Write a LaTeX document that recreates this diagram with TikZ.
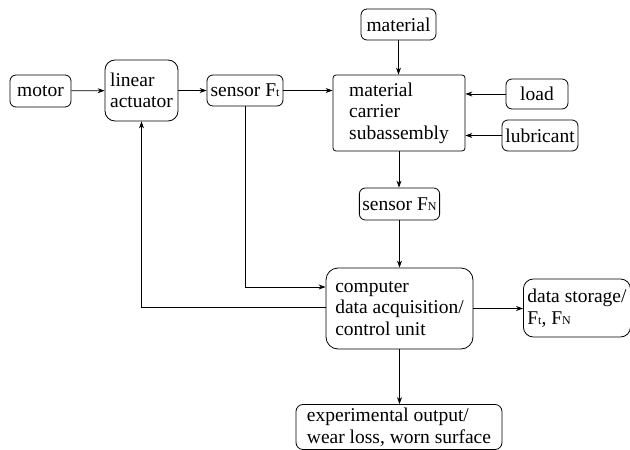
\documentclass[tikz,border=0pt]{standalone}
\usepackage{fontspec}
\setmainfont{Liberation Serif}
\newfontfamily\blockfont{Liberation Serif}
\usetikzlibrary{arrows.meta}
\newcommand{\lowsub}[1]{{\fontsize{12}{12}\selectfont #1}}

\begin{document}
\begin{tikzpicture}[x=1pt,y=-1pt,
        block/.style={draw,line width=0.8pt,rounded corners=6pt,align=left,
            inner xsep=3pt,inner ysep=2pt,font=\blockfont\fontsize{19.5}{21.5}\selectfont},
        link/.style={line width=0.8pt,-{Stealth[length=7pt,width=5pt]}}]
        \useasboundingbox (0,0) rectangle (630,450);
        %% Blocks
        \node[block,minimum width=61pt,minimum height=32pt] (motor) at (40.5,91) {motor};
        \node[block,rounded corners=10pt,minimum width=73pt,minimum height=61pt]
            (actuator) at (141.5,90.5) {linear\\actuator};
        \node[block,minimum width=76pt,minimum height=31pt] (sensorFt) at (245,90.5)
            {sensor F\lowsub{t}};
        \node[block,minimum width=75pt,minimum height=31pt] (material) at (398.5,24.5) {material};
        \node[block,rounded corners=3pt,minimum width=132pt,minimum height=76pt]
            (carrier) at (399,113) {material\\carrier\\subassembly};
        \node[block,minimum width=62pt,minimum height=30pt] (load) at (537,94) {load};
        \node[block,minimum width=76pt,minimum height=31pt] (lubricant) at (540,135.5) {lubricant};
        \node[block,minimum width=79pt,minimum height=32pt] (sensorFN) at (399.5,204)
            {sensor F\lowsub{N}};
        \node[block,rounded corners=12pt,minimum width=147pt,minimum height=81pt]
            (computer) at (399.5,308.5) {computer\\data acquisition/\\control unit};
        \node[block,rounded corners=10pt,anchor=west,minimum height=58pt,inner xsep=4pt]
            (storage) at (523,308) {data storage/\\F\lowsub{t}, F\lowsub{N}};
        \node[block,rounded corners=7pt,minimum width=206pt,minimum height=45pt]
            (output) at (399,427) {experimental output/\\wear loss, worn surface};
        %% Connectors
        \draw[link] (motor) -- (actuator);
        \draw[link] (actuator) -- (sensorFt);
        \draw[link] (sensorFt) -- (sensorFt -| carrier.west);
        \draw[link] (material) -- (material |- carrier.north);
        \draw[link] (load) -- (load -| carrier.east);
        \draw[link] (lubricant) -- (lubricant -| carrier.east);
        \draw[link] (carrier) -- (carrier |- sensorFN.north);
        \draw[link] (sensorFN) -- (sensorFN |- computer.north);
        \draw[link] (sensorFt.south) |- ([yshift=21.5pt]computer.west);
        \draw[link] ([yshift=1.5pt]computer.west) -| (actuator.south);
        \draw[link] (computer) -- (computer -| storage.west);
        \draw[link] (computer) -- (computer |- output.north);
    \end{tikzpicture}
\end{document}
